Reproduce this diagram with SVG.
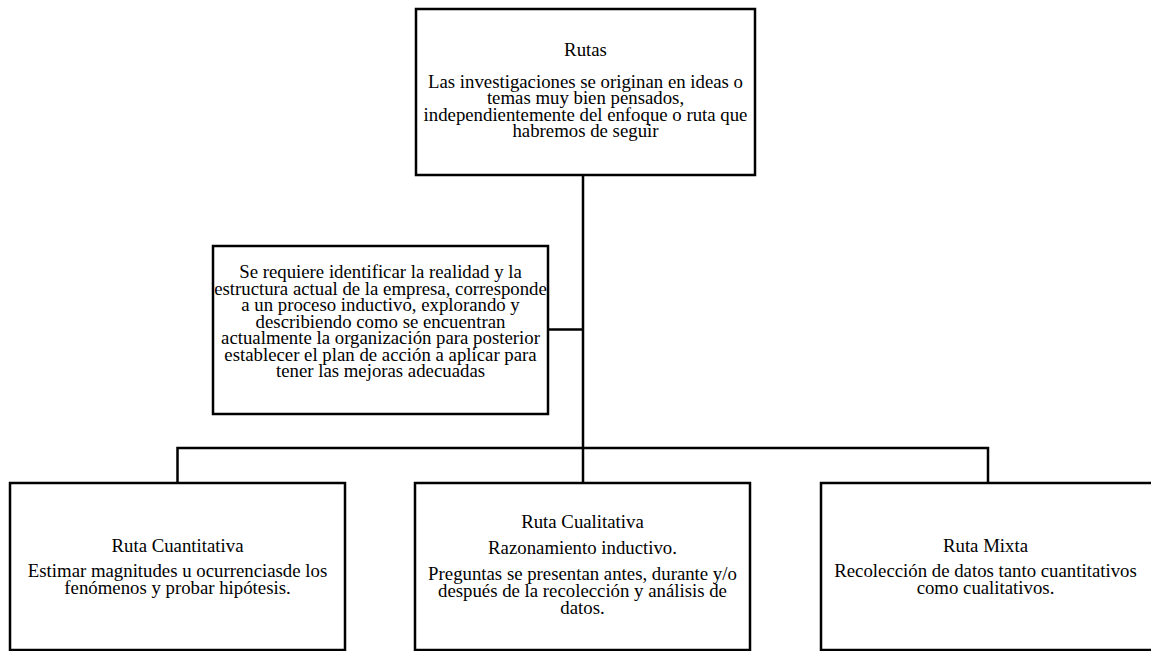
<svg xmlns="http://www.w3.org/2000/svg" width="1151" height="651" viewBox="0 0 1151 651">
<style>
.box{fill:#fff;stroke:#000;stroke-width:2.5}
.con{fill:none;stroke:#000;stroke-width:2.5}
text{font-family:"Liberation Serif","Times New Roman",serif;font-size:18.8px;fill:#000;text-anchor:middle}
</style>
<rect width="1151" height="651" fill="#fff"/>
<g id="connectors">
<path class="con" d="M583 175 V448"/>
<path class="con" d="M548 329.5 H583"/>
<path class="con" d="M177.5 483 V448 H988 V483"/>
<path class="con" d="M583 448 V483"/>
</g>
<g id="node-rutas">
<rect class="box" x="416" y="9" width="339" height="166"/>
<text x="585.5" y="56">Rutas</text>
<text x="585.5" y="88">Las investigaciones se originan en ideas o</text>
<text x="585.5" y="104">temas muy bien pensados,</text>
<text x="585.5" y="120.5">independientemente del enfoque o ruta que</text>
<text x="585.5" y="137">habremos de seguir</text>
</g>
<g id="node-nota">
<rect class="box" x="213" y="246" width="335" height="168"/>
<text x="380.5" y="278">Se requiere identificar la realidad y la</text>
<text x="380.5" y="294.5">estructura actual de la empresa, corresponde</text>
<text x="380.5" y="311">a un proceso inductivo, explorando y</text>
<text x="380.5" y="327.5">describiendo como se encuentran</text>
<text x="380.5" y="344">actualmente la organización para posterior</text>
<text x="380.5" y="360.5">establecer el plan de acción a aplicar para</text>
<text x="380.5" y="377">tener las mejoras adecuadas</text>
</g>
<g id="node-cuantitativa">
<rect class="box" x="10" y="483" width="335" height="167"/>
<text x="177.5" y="552">Ruta Cuantitativa</text>
<text x="177.5" y="577">Estimar magnitudes u ocurrenciasde los</text>
<text x="177.5" y="593.5">fenómenos y probar hipótesis.</text>
</g>
<g id="node-cualitativa">
<rect class="box" x="415" y="483" width="335" height="167"/>
<text x="582.5" y="528">Ruta Cualitativa</text>
<text x="582.5" y="553.5">Razonamiento inductivo.</text>
<text x="582.5" y="580">Preguntas se presentan antes, durante y/o</text>
<text x="582.5" y="597">después de la recolección y análisis de</text>
<text x="582.5" y="614">datos.</text>
</g>
<g id="node-mixta">
<rect class="box" x="821" y="483" width="340" height="167"/>
<text x="985.5" y="552">Ruta Mixta</text>
<text x="985.5" y="577">Recolección de datos tanto cuantitativos</text>
<text x="985.5" y="593.5">como cualitativos.</text>
</g>
</svg>
